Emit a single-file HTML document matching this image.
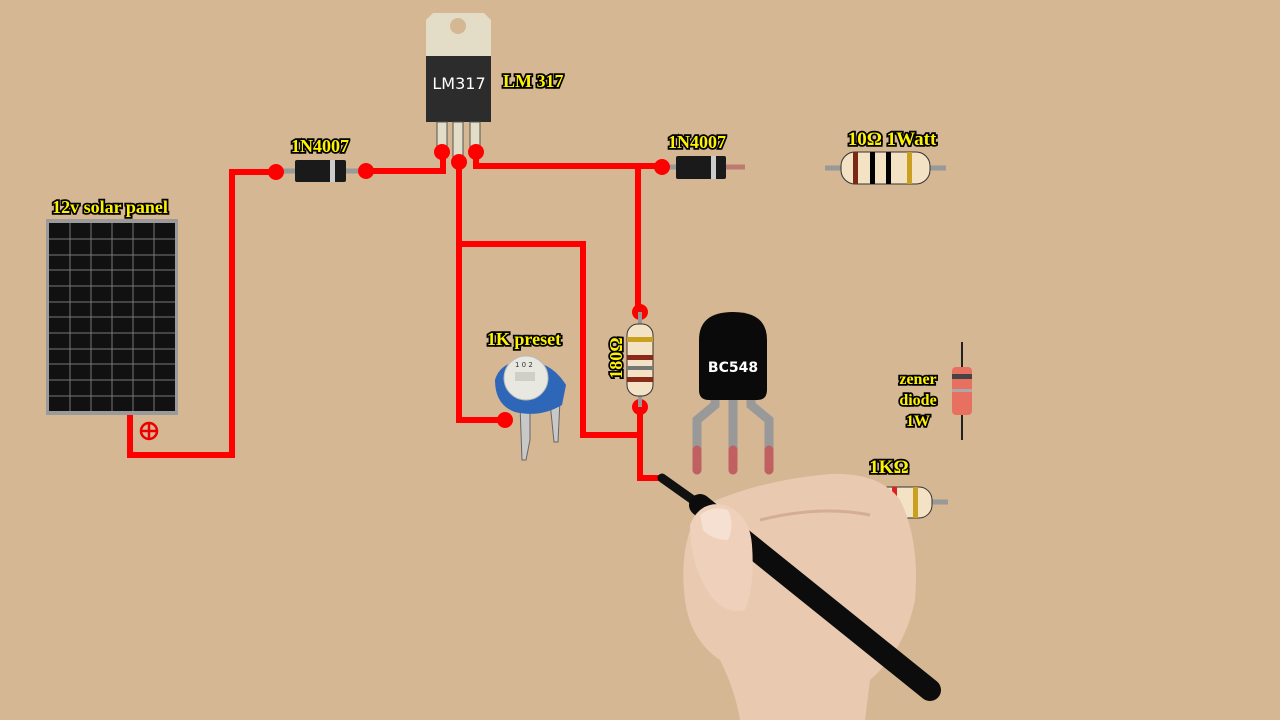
<!DOCTYPE html>
<html><head><meta charset="utf-8"><style>
html,body{margin:0;padding:0;background:#d5b793;}
svg{display:block}
.lb{font-family:"Liberation Serif",serif;font-weight:bold;fill:#fff200;stroke:#000;stroke-width:3.5px;paint-order:stroke;}
</style></head><body>
<svg width="1280" height="720" viewBox="0 0 1280 720" xmlns="http://www.w3.org/2000/svg">
<rect width="1280" height="720" fill="#d5b793"/>
<!-- solar panel -->
<rect x="46" y="219" width="132" height="196" fill="#9a9a9a"/>
<rect x="49" y="223" width="126" height="188" fill="#111"/>
<g stroke="#777" stroke-width="1">
<line x1="70" y1="223" x2="70" y2="411"/><line x1="91" y1="223" x2="91" y2="411"/><line x1="112" y1="223" x2="112" y2="411"/><line x1="133" y1="223" x2="133" y2="411"/><line x1="154" y1="223" x2="154" y2="411"/>
<line x1="49" y1="239" x2="175" y2="239"/><line x1="49" y1="255" x2="175" y2="255"/><line x1="49" y1="270" x2="175" y2="270"/><line x1="49" y1="286" x2="175" y2="286"/><line x1="49" y1="302" x2="175" y2="302"/><line x1="49" y1="317" x2="175" y2="317"/><line x1="49" y1="333" x2="175" y2="333"/><line x1="49" y1="349" x2="175" y2="349"/><line x1="49" y1="364" x2="175" y2="364"/><line x1="49" y1="380" x2="175" y2="380"/><line x1="49" y1="396" x2="175" y2="396"/>
</g>
<text x="110" y="213" text-anchor="middle" class="lb" font-size="18">12v solar panel</text>
<circle cx="149" cy="431" r="8" fill="none" stroke="#e00" stroke-width="2.5"/>
<line x1="141" y1="431" x2="157" y2="431" stroke="#e00" stroke-width="2.5"/><line x1="149" y1="423" x2="149" y2="439" stroke="#e00" stroke-width="2.5"/>

<!-- wires -->
<g fill="none" stroke="#f00" stroke-width="6" stroke-linejoin="miter">
<polyline points="130,415 130,455 232,455 232,172 276,172"/>
<polyline points="366,171 443,171 443,152"/>
<polyline points="459,162 459,420 505,420"/>
<polyline points="459,244 583,244 583,435 640,435"/>
<polyline points="476,152 476,166 662,166"/>
<polyline points="638,166 638,312"/>
<polyline points="640,407 640,478 662,478"/>
</g>

<!-- diode 1 -->
<line x1="276" y1="171" x2="366" y2="171" stroke="#999" stroke-width="5"/>
<rect x="295" y="160" width="51" height="22" rx="2" fill="#1a1a1a"/>
<rect x="330" y="160" width="5" height="22" fill="#ccc"/>
<text x="320" y="152" text-anchor="middle" class="lb" font-size="18">1N4007</text>
<!-- diode 2 -->
<line x1="662" y1="167" x2="745" y2="167" stroke="#bd7a70" stroke-width="5"/>
<line x1="662" y1="167" x2="720" y2="167" stroke="#999" stroke-width="5"/>
<rect x="676" y="156" width="50" height="23" rx="2" fill="#1a1a1a"/>
<rect x="711" y="156" width="5" height="23" fill="#ccc"/>
<text x="697" y="148" text-anchor="middle" class="lb" font-size="18">1N4007</text>

<!-- LM317 -->
<path d="M433,13 L484,13 L491,20 L491,56 L426,56 L426,20 Z" fill="#e3dcc6"/>
<circle cx="458" cy="26" r="8" fill="#d5b793"/>
<rect x="426" y="56" width="65" height="66" fill="#2c2c2c"/>
<text x="459" y="89" text-anchor="middle" font-family="DejaVu Sans,sans-serif" font-size="16" fill="#fff">LM317</text>
<g fill="#e3dcc6" stroke="#555" stroke-width="1">
<rect x="437" y="122" width="10" height="28"/><rect x="453" y="122" width="10" height="36"/><rect x="470" y="122" width="10" height="28"/>
</g>
<text x="503" y="87" class="lb" font-size="18">LM 317</text>

<!-- dots -->
<g fill="#f00">
<circle cx="276" cy="172" r="8"/><circle cx="366" cy="171" r="8"/>
<circle cx="442" cy="152" r="8"/><circle cx="459" cy="162" r="8"/><circle cx="476" cy="152" r="8"/>
<circle cx="662" cy="167" r="8"/><circle cx="640" cy="312" r="8"/><circle cx="640" cy="407" r="8"/><circle cx="505" cy="420" r="8"/>
</g>

<!-- 10 ohm resistor -->
<line x1="825" y1="168" x2="946" y2="168" stroke="#999" stroke-width="5"/>
<rect x="841" y="152" width="89" height="32" rx="14" fill="#f3e2c4" stroke="#333" stroke-width="1"/>
<rect x="853" y="152" width="5" height="32" fill="#7a2a14"/><rect x="870" y="152" width="5" height="32" fill="#000"/><rect x="886" y="152" width="5" height="32" fill="#000"/><rect x="907" y="152" width="5" height="32" fill="#c9a020"/>
<text x="892" y="145" text-anchor="middle" class="lb" font-size="19">10Ω 1Watt</text>

<!-- 180 resistor vertical -->
<line x1="640" y1="312" x2="640" y2="407" stroke="#999" stroke-width="4"/>
<rect x="627" y="324" width="26" height="72" rx="11" fill="#f3e2c4" stroke="#333" stroke-width="1"/>
<rect x="627" y="337" width="26" height="5" fill="#c9a020"/><rect x="627" y="355" width="26" height="5" fill="#8a2a1a"/><rect x="627" y="366" width="26" height="4" fill="#777"/><rect x="627" y="377" width="26" height="5" fill="#8a2a1a"/>
<text transform="translate(622,358) rotate(-90)" text-anchor="middle" class="lb" font-size="18">180Ω</text>

<!-- preset -->
<text x="524" y="345" text-anchor="middle" class="lb" font-size="18">1K preset</text>
<g fill="#c8c8c8" stroke="#666" stroke-width="1">
<path d="M520,405 L530,405 L530,440 L526,460 L522,460 Z"/>
<path d="M550,402 L560,400 L558,442 L554,442 Z"/>
</g>
<path d="M495,380 Q500,362 525,360 Q552,362 566,385 L562,405 Q540,418 515,412 Q495,405 495,380 Z" fill="#2e66b8"/>
<circle cx="526" cy="378" r="22" fill="#e8e8e0" stroke="#bbb"/>
<rect x="515" y="372" width="20" height="9" fill="#cfcfc8"/>
<text x="515" y="367" font-family="DejaVu Sans,sans-serif" font-size="7" fill="#333">1 0 2</text>

<!-- BC548 -->
<g fill="none" stroke="#999" stroke-width="9" stroke-linecap="round">
<path d="M715,395 L715,405 L697,420 L697,470"/>
<path d="M733,395 L733,470"/>
<path d="M751,395 L751,405 L769,420 L769,470"/>
</g>
<g stroke="#c06060" stroke-width="9" stroke-linecap="round"><line x1="697" y1="450" x2="697" y2="470"/><line x1="733" y1="450" x2="733" y2="470"/><line x1="769" y1="450" x2="769" y2="470"/></g>
<path d="M699,340 Q699,312 733,312 Q767,312 767,340 L767,390 Q767,400 757,400 L709,400 Q699,400 699,390 Z" fill="#0a0a0a"/>
<text x="733" y="372" text-anchor="middle" font-family="DejaVu Sans,sans-serif" font-weight="bold" font-size="14" fill="#fff">BC548</text>

<!-- zener -->
<line x1="962" y1="342" x2="962" y2="440" stroke="#222" stroke-width="2"/>
<rect x="952" y="367" width="20" height="48" rx="4" fill="#e87060"/>
<rect x="952" y="374" width="20" height="5" fill="#444"/><rect x="952" y="389" width="20" height="3" fill="#aaa"/>
<text x="918" y="384" text-anchor="middle" class="lb" font-size="16">zener</text>
<text x="918" y="405" text-anchor="middle" class="lb" font-size="16">diode</text>
<text x="918" y="426" text-anchor="middle" class="lb" font-size="16">1W</text>

<!-- 1K resistor -->
<line x1="860" y1="502" x2="948" y2="502" stroke="#999" stroke-width="5"/>
<rect x="856" y="487" width="76" height="31" rx="13" fill="#f3e2c4" stroke="#333" stroke-width="1"/>
<rect x="868" y="487" width="5" height="31" fill="#7a2a14"/><rect x="879" y="487" width="5" height="31" fill="#000"/><rect x="892" y="487" width="5" height="31" fill="#e02020"/><rect x="913" y="487" width="5" height="31" fill="#c9a020"/>
<text x="889" y="473" text-anchor="middle" class="lb" font-size="19">1KΩ</text>

<!-- hand -->
<path d="M705,505 Q760,480 830,474 Q880,472 900,500 Q920,540 915,600 Q905,650 870,680 L865,720 L740,720 Q735,690 720,660 Q690,640 685,600 Q680,560 690,530 Z" fill="#e9c9b0"/>
<path d="M760,520 Q820,505 870,515" fill="none" stroke="#d4ad95" stroke-width="3"/>
<!-- pen -->
<line x1="662" y1="478" x2="700" y2="505" stroke="#111" stroke-width="9" stroke-linecap="round"/>
<line x1="700" y1="505" x2="930" y2="690" stroke="#0c0c0c" stroke-width="22" stroke-linecap="round"/>
<!-- thumb over pen -->
<path d="M690,525 Q700,500 725,505 Q750,515 752,545 Q755,585 745,610 Q725,615 710,595 Q690,565 690,525 Z" fill="#efd0ba"/>
<path d="M700,515 Q712,505 728,510 Q735,525 728,540 Q712,540 703,530 Z" fill="#f6e0d2"/>
</svg>
</body></html>
